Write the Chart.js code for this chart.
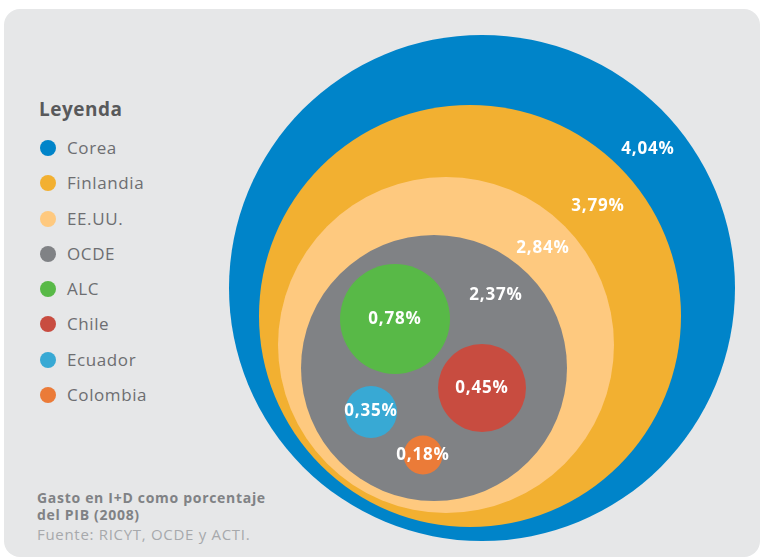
<!DOCTYPE html>
<html>
<head>
<meta charset="utf-8">
<script src="https://cdn.jsdelivr.net/npm/chart.js@4"></script>
<style>
  body { margin: 0; background: #fff; font-family: "Open Sans", sans-serif; }
  #wrap { position: relative; width: 764px; height: 558px; overflow: hidden; }
  #panel { position: absolute; left: 4px; top: 9px; width: 756px; height: 548px; background: #e6e7e8; border-radius: 16px; }
  #chart { position: absolute; left: 0; top: 0; }
  #legend { position: absolute; left: 39px; top: 96px; }
  #legend h3 { margin: 0 0 14px 0; font-size: 19px; letter-spacing: 0.5px; font-weight: 700; color: #58595b; height: 26px; line-height: 26px; }
  .item { position: relative; height: 35.3px; line-height: 24px; font-size: 17px; letter-spacing: 0.6px; color: #6d6e71; padding-left: 28px; }
  .dot { position: absolute; left: 1px; top: 4px; width: 16px; height: 16px; border-radius: 50%; }
  #note { position: absolute; left: 37px; top: 489px; font-size: 14px; letter-spacing: 0.7px; line-height: 17px; color: #808285; }
  #note b { font-weight: 700; }
  #note span { display: block; margin-top: 3px; color: #a7a9ac; font-size: 15px; letter-spacing: 0.7px; }
</style>
</head>
<body>
<div id="wrap">
  <div id="panel"></div>
  <div id="legend"><h3>Leyenda</h3></div>
  <div id="note"><b>Gasto en I+D como porcentaje<br>del PIB (2008)</b><span>Fuente: RICYT, OCDE y ACTI.</span></div>
  <canvas id="chart" width="764" height="558"></canvas>
</div>
<script>
// gasto en I+D (% del PIB)
const paises = ["Corea", "Finlandia", "EE.UU.", "OCDE", "ALC", "Chile", "Ecuador", "Colombia"];
const valores = [4.04, 3.79, 2.84, 2.37, 0.78, 0.45, 0.35, 0.18];
const colores = ["#0084c9", "#f2b031", "#fec97f", "#808285", "#58b947", "#c84c40", "#38a9d4", "#eb7b38"];

// bubble placement
const centroX = [482, 470, 446, 434, 395, 482, 371, 423];
const centroY = [288, 316, 345, 368, 319, 388, 412, 455];
const radios = [253, 211, 168, 133, 55, 44, 26, 19.5];
// label spots (same units as the bubbles)
const etiquetaX = [648, 598, 543, 496, 395, 482, 371, 423];
const etiquetaY = [149, 206, 248, 295, 319, 388, 411, 455];

const fmt = v => v.toFixed(2).replace(".", ",") + "%";

const legend = document.getElementById("legend");
paises.forEach((p, i) => {
  const d = document.createElement("div");
  d.className = "item";
  d.innerHTML = '<span class="dot" style="background:' + colores[i] + '"></span>' + p;
  legend.appendChild(d);
});

const labelsPlugin = {
  id: "bubbleLabels",
  afterDatasetsDraw(chart) {
    const ctx = chart.ctx;
    const xs = chart.scales.x, ys = chart.scales.y;
    ctx.save();
    ctx.fillStyle = "#fff";
    ctx.font = "700 17px 'Open Sans'";
    ctx.letterSpacing = "0.8px";
    ctx.textAlign = "center";
    ctx.textBaseline = "middle";
    valores.forEach((v, i) => {
      ctx.fillText(fmt(v), xs.getPixelForValue(etiquetaX[i]), ys.getPixelForValue(etiquetaY[i]));
    });
    ctx.restore();
  }
};

new Chart(document.getElementById("chart"), {
  type: "bubble",
  data: {
    datasets: [{
      label: "Gasto en I+D",
      data: paises.map((p, i) => ({ x: centroX[i], y: centroY[i], r: radios[i] })),
      backgroundColor: colores,
      borderWidth: 0,
      hoverRadius: 0,
      hoverBorderWidth: 0,
      clip: false
    }]
  },
  options: {
    responsive: false,
    animation: false,
    events: [],
    layout: { padding: 0, autoPadding: false },
    scales: {
      x: { type: "linear", min: 0, max: 764, display: false },
      y: { type: "linear", min: 0, max: 558, reverse: true, display: false }
    },
    plugins: { legend: { display: false }, tooltip: { enabled: false } }
  },
  plugins: [labelsPlugin]
});
</script>
</body>
</html>
